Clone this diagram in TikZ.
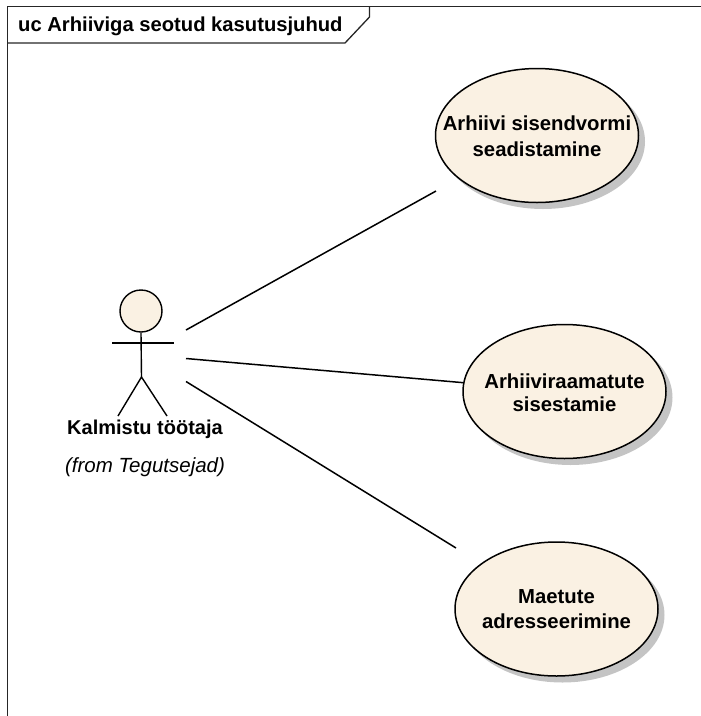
\documentclass[tikz,border=0pt]{standalone}
\usepackage{fontspec}
\setmainfont{Liberation Sans}
\usetikzlibrary{shapes.geometric}
\definecolor{ucfill}{HTML}{FAF1E3}
\definecolor{ucshadow}{HTML}{C4C4C4}
% two centred lines that do not enlarge the ellipse: text, raise above the node centre
\newcommand\uclines[4]{\makebox[0pt]{\raisebox{#2pt}[0pt][0pt]{\makebox[0pt]{#1}}\raisebox{#4pt}[0pt][0pt]{\makebox[0pt]{#3}}}}
\tikzset{
  usecase/.style={ellipse,draw=black,line width=1.5pt,fill=ucfill,minimum width=203pt,minimum height=134pt,inner sep=0pt,font=\fontsize{20.3}{25}\selectfont\bfseries},
  ucback/.style={ellipse,fill=ucshadow,minimum width=204pt,minimum height=135pt,inner sep=0pt},
  wire/.style={line width=1.5pt,black},
  frameline/.style={line width=1.3pt,black!85},
  stick/.style={line width=1.4pt,black},
  label/.style={inner sep=0pt,anchor=base}
}
\begin{document}
\begin{tikzpicture}[x=1pt,y=-1pt]
\useasboundingbox (0,0) rectangle (701,716);
% frame
\coordinate (ftl) at (7.5,6.5);
\coordinate (ftr) at (701,6.5);
\coordinate (fbl) at (7.5,716);
\draw[frameline] (fbl) -- (ftl) -- (ftr);
\coordinate (t1) at (369.5,6.5);
\coordinate (t2) at (369.5,17);
\coordinate (t3) at (345,43);
\coordinate (t4) at (7.5,43);
\draw[frameline] (t1) -- (t2) -- (t3) -- (t4);
\node[label,anchor=base west,font=\fontsize{20.2}{24}\selectfont\bfseries] (title) at (18,31.5) {uc Arhiiviga seotud kasutusjuhud};
% shadows
\node[ucback] (s1) at (543,141.5) {};
\node[ucback] (s2) at (570.5,397.5) {};
\node[ucback] (s3) at (562.5,615) {};
% use cases
\node[usecase] (u1) at (537,135.5) {\uclines{Arhiivi sisendvormi}{5.5}{seadistamine}{-20.5}};
\node[usecase] (u2) at (564.5,391.5) {\uclines{Arhiiviraamatute}{3.5}{sisestamie}{-19.5}};
\node[usecase] (u3) at (556.5,609) {\uclines{Maetute}{6}{adresseerimine}{-19}};
% actor
\node[circle,draw=black,line width=1.4pt,fill=ucfill,minimum size=42pt,inner sep=0pt] (head) at (141,311) {};
\coordinate (hip) at (141.5,377);
\coordinate (armL) at (112,343);
\coordinate (armR) at (174,343);
\coordinate (legL) at (118,416);
\coordinate (legR) at (167,416);
\draw[stick] (head.south) -- (hip);
\draw[stick] (armL) -- (armR);
\draw[stick] (legL) -- (hip) -- (legR);
\node[label,font=\fontsize{20}{24}\selectfont\bfseries] (aname) at (145,434) {Kalmistu töötaja};
\node[label,font=\fontsize{20.5}{24}\selectfont\itshape] (afrom) at (145,472) {(from Tegutsejad)};
% connectors
\coordinate (a1) at (186,330);
\coordinate (a2) at (186,358.5);
\coordinate (a3) at (186,381.5);
\coordinate (e1) at (436,191);
\coordinate (e3) at (456,548);
\draw[wire] (a1) -- (e1);
\draw[wire] (a2) -- (u2);
\draw[wire] (a3) -- (e3);
\end{tikzpicture}
\end{document}
